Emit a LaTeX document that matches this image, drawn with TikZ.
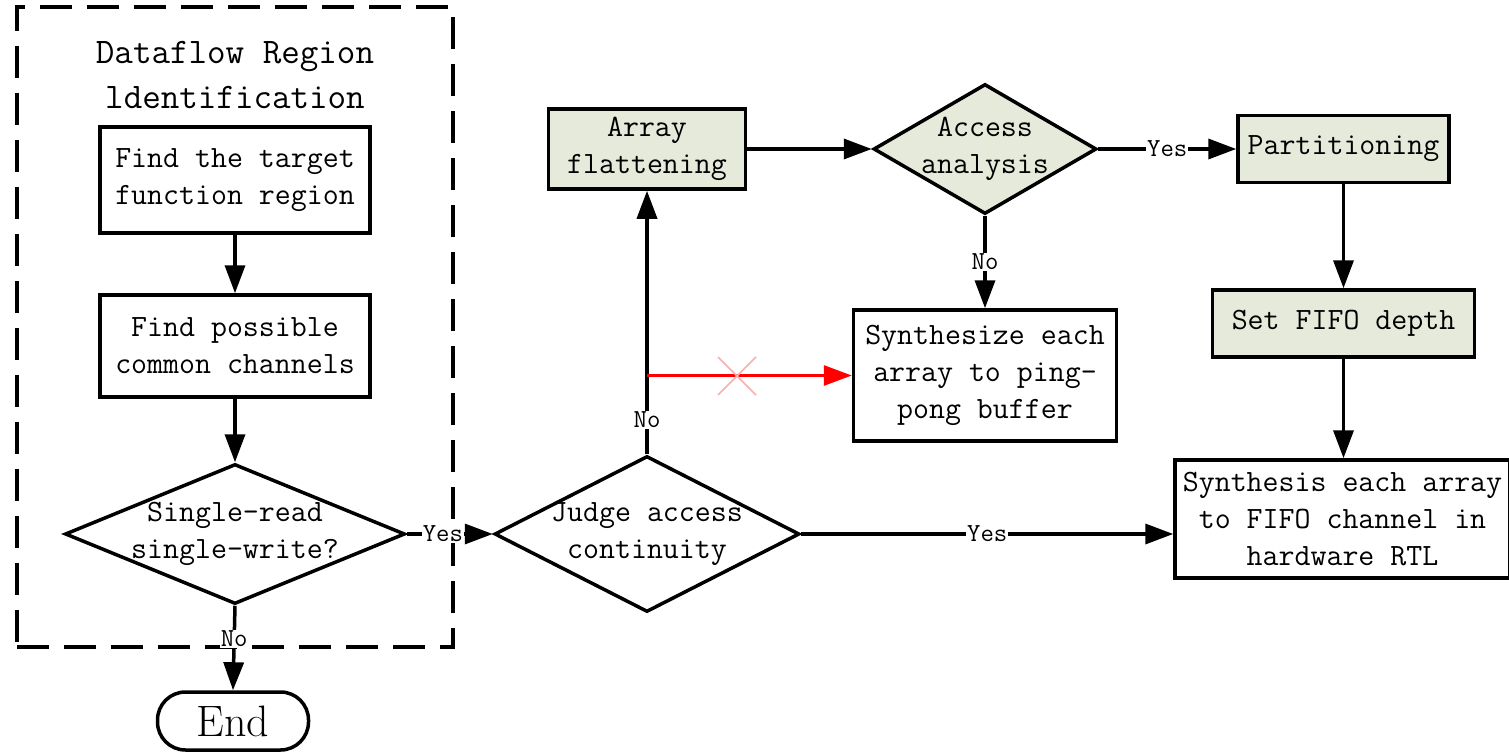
\documentclass[tikz,border=0pt]{standalone}
\usepackage{fontspec}
\usetikzlibrary{arrows.meta,shapes.geometric}
\definecolor{boxgreen}{RGB}{229,234,218}
\definecolor{xpink}{RGB}{250,175,175}
\newcommand\boxfont{\ttfamily\fontsize{31}{37}\selectfont}
\newcommand\labfont{\ttfamily\fontsize{26}{28}\selectfont}
\newcommand\titlefont{\ttfamily\fontsize{36}{45}\selectfont}
\newcommand\stopfont{\rmfamily\fontsize{44}{50}\selectfont}
\begin{document}
\begin{tikzpicture}[x=1pt,y=-1pt,
  box/.style={draw, line width=3.5pt, rectangle, inner sep=0pt, align=center, font=\boxfont},
  gbox/.style={box, fill=boxgreen},
  dia/.style={draw, diamond, line width=3.5pt, inner sep=0pt},
  txt/.style={align=center, font=\boxfont, inner sep=0pt},
  lab/.style={fill=white, inner sep=1pt, font=\labfont},
  flow/.style={line width=3.5pt, -{Triangle[length=28pt,width=20pt]}},
  redflow/.style={line width=3pt, red, -{Triangle[length=28pt,width=20pt]}}]
\useasboundingbox (0,0) rectangle (1509,752);
% dashed region
\node[draw, dash pattern=on 32pt off 15pt, line width=3.5pt, rectangle, inner sep=0pt,
      minimum width=436pt, minimum height=640pt] (region) at (235,327) {};
\node[align=center, font=\titlefont, inner sep=0pt] (title) at (235,75) {Dataflow Region\\ldentification};
\node[box, minimum width=270pt, minimum height=106pt] (find1) at (235,180) {Find the target\\function region};
\node[box, minimum width=270pt, minimum height=102pt] (find2) at (235,346) {Find possible\\common channels};
\node[dia, minimum width=340pt, minimum height=140pt] (d1) at (235,534) {};
\node[txt] (d1t) at (d1) {Single-read\\single-write?};
\node[draw, line width=3.5pt, rectangle, rounded corners=28pt, minimum width=151pt, minimum height=58pt,
      inner sep=0pt, font=\stopfont] (end) at (233,721) {End};
% middle
\node[dia, minimum width=305pt, minimum height=156pt] (judge) at (647,534) {};
\node[txt] (judget) at (judge) {Judge access\\continuity};
\node[gbox, minimum width=197pt, minimum height=80pt] (flat) at (647,149) {Array\\flattening};
\node[dia, fill=boxgreen, minimum width=223pt, minimum height=130pt] (acc) at (985,149) {};
\node[txt] (acct) at (acc) {Access\\analysis};
\node[box, minimum width=263pt, minimum height=131pt] (ping) at (985,375.5) {Synthesize each\\array to ping-\\pong buffer};
% right
\node[gbox, minimum width=211pt, minimum height=67pt] (part) at (1343.5,149) {Partitioning};
\node[gbox, minimum width=262pt, minimum height=67pt] (fifo) at (1343.5,323.5) {Set FIFO depth};
\node[box, minimum width=335pt, minimum height=118pt] (synth) at (1342.5,519) {Synthesis each array\\to FIFO channel in\\hardware RTL};
% connectors
\draw[flow] (find1.south) -- (find2.north);
\draw[flow] (find2.south) -- (d1.north);
\draw[flow] (d1.south) -- node[lab, pos=0.39] {No} (end.north);
\draw[flow] (d1.east) -- node[lab, pos=0.42] {Yes} (judge.west);
\draw[flow] (judge.north) -- node[lab, pos=0.13] {No} (flat.south);
\coordinate (rs) at (flat.south |- ping.west);
\draw[redflow] (rs) -- (ping.west);
\coordinate (xm) at (737,376);
\draw[xpink, line width=1.5pt] (xm) ++(-19,-19) -- ++(38,38) (xm) ++(-19,19) -- ++(38,-38);
\draw[flow] (flat.east) -- (acc.west);
\draw[flow] (acc.east) -- node[lab, pos=0.5] {Yes} (part.west);
\draw[flow] (acc.south) -- node[lab, pos=0.5] {No} (ping.north);
\draw[flow] (part.south) -- (part.south |- fifo.north);
\draw[flow] (fifo.south) -- (fifo.south |- synth.north);
\draw[flow] (judge.east) -- node[lab, pos=0.5] {Yes} (judge.east -| synth.west);
\end{tikzpicture}
\end{document}
